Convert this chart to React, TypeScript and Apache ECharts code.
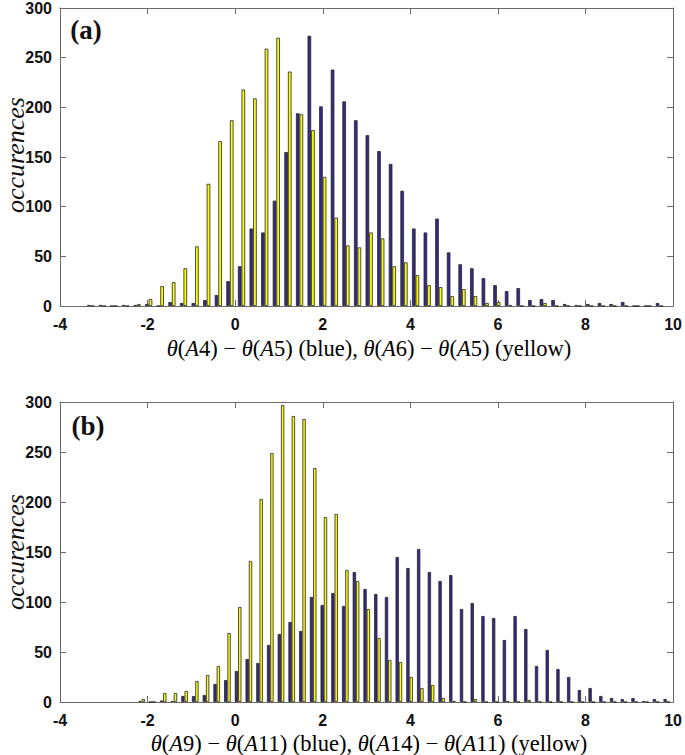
import React, { useEffect, useRef } from "react";
import * as echarts from "echarts";

// Panel (a): 50 histogram bins
const binStartA = -3.3;
const binWidthA = 0.265;
const blueA = [1, 1, 0, 1, 1, 2, 0, 4, 3, 3, 6, 11, 25, 40, 78, 74, 106, 155, 194, 272, 201, 238, 206, 187, 172, 156, 143, 116, 78, 74, 88, 54, 42, 38, 28, 21, 15, 18, 6, 7, 6, 2, 1, 2, 3, 2, 4, 0, 0, 3];
const yellowA = [0, 0, 0, 0, 2, 7, 20, 24, 38, 60, 123, 166, 187, 218, 209, 259, 270, 236, 193, 177, 130, 89, 61, 59, 74, 68, 40, 44, 31, 21, 19, 10, 17, 10, 3, 4, 1, 0, 0, 3, 0, 0, 0, 0, 0, 0, 0, 0, 0, 0];

// Panel (b): 50 histogram bins
const binStartB = -2.135;
const binWidthB = 0.2447;
const blueB = [1, 0, 1.5, 1, 6, 6, 7, 18, 22, 31, 43, 39, 57, 68, 80, 71, 105, 97, 109, 96, 130, 113, 108, 105, 145, 134, 153, 130, 121, 127, 93, 99, 86, 84, 62, 86, 73, 36, 52, 33, 25, 12, 14, 6, 4, 3, 4, 1, 3, 3];
const yellowB = [3, 0, 9, 9, 11, 21, 27, 36, 69, 95, 141, 203, 249, 297, 286, 283, 234, 185, 188, 132, 121, 93, 64, 42, 40, 25, 14, 17, 4, 1, 0, 3, 0, 0, 1, 0, 2, 0, 0, 0, 0, 0, 0, 0, 0, 0, 0, 0, 0, 0];

const xTicks = { min: -4, max: 10, interval: 2 };
const yTicks = { min: 0, max: 300, interval: 50 };

const BLUE = "#352a87";
const YELLOW = "#f9fb0e";
const EDGE = "#262626";
const FRAME = "#6a6a6a";

export default function App() {
  const ref = useRef<HTMLDivElement>(null);
  useEffect(() => {
    if (!ref.current) return;
    const chart = echarts.init(ref.current, null, { renderer: "svg" });

    const mkX = (gridIndex: number, position: string, labels: boolean) => ({
      type: "value",
      gridIndex,
      position,
      min: xTicks.min,
      max: xTicks.max,
      interval: xTicks.interval,
      axisLine: { show: true, onZero: false, lineStyle: { color: FRAME, width: 1 } },
      axisTick: { show: true, inside: true, length: 6, lineStyle: { color: FRAME } },
      axisLabel: {
        show: labels,
        margin: 10,
        color: "#111",
        fontFamily: "Liberation Sans",
        fontWeight: "bold",
        fontSize: 16,
      },
      splitLine: { show: false },
    });
    const mkY = (gridIndex: number, position: string, labels: boolean) => ({
      type: "value",
      gridIndex,
      position,
      min: yTicks.min,
      max: yTicks.max,
      interval: yTicks.interval,
      axisLine: { show: true, onZero: false, lineStyle: { color: FRAME, width: 1 } },
      axisTick: { show: true, inside: true, length: 6, lineStyle: { color: FRAME } },
      axisLabel: {
        show: labels,
        margin: 8,
        color: "#111",
        fontFamily: "Liberation Sans",
        fontWeight: "bold",
        fontSize: 16,
      },
      splitLine: { show: false },
    });

    const mkSeries = (
      xAxisIndex: number,
      yAxisIndex: number,
      start: number,
      width: number,
      vals: number[],
      color: string,
      barW: number
    ) => ({
      type: "bar",
      xAxisIndex,
      yAxisIndex,
      barWidth: barW,
      barGap: "0%",
      data: vals.map((v, i) => [start + i * width, v]),
      itemStyle: { color, borderColor: EDGE, borderWidth: 0.8 },
    });

    const titleRich = {
      i: { fontFamily: "Liberation Serif", fontStyle: "italic", fontSize: 22.5, color: "#111" },
      n: { fontFamily: "Liberation Serif", fontSize: 22.5, color: "#111" },
    };
    const mathTitle = (a: string, b: string, c: string) =>
      `{i|θ}{n|(}{i|A}{n|${a}) − }{i|θ}{n|(}{i|A}{n|${b}) (blue), }{i|θ}{n|(}{i|A}{n|${c}) − }{i|θ}{n|(}{i|A}{n|${b}) (yellow)}`;

    const ylabel = (y: number) => ({
      type: "text",
      x: 15,
      y,
      rotation: Math.PI / 2,
      style: {
        text: "occurences",
        font: 'italic 26px "Liberation Serif"',
        fill: "#111",
        align: "center",
        verticalAlign: "middle",
      },
    });

    const option = {
      animation: false,
      backgroundColor: "#fff",
      grid: [
        { left: 60, top: 5, width: 617, height: 301 },
        { left: 60, top: 402, width: 617, height: 300 },
      ],
      xAxis: [mkX(0, "bottom", true), mkX(0, "top", false), mkX(1, "bottom", true), mkX(1, "top", false)],
      yAxis: [mkY(0, "left", true), mkY(0, "right", false), mkY(1, "left", true), mkY(1, "right", false)],
      series: [
        mkSeries(0, 0, binStartA, binWidthA, blueA, BLUE, 3.6),
        mkSeries(0, 0, binStartA, binWidthA, yellowA, YELLOW, 3.6),
        mkSeries(2, 2, binStartB, binWidthB, blueB, BLUE, 3.3),
        mkSeries(2, 2, binStartB, binWidthB, yellowB, YELLOW, 3.3),
      ],
      graphic: [
        {
          type: "text",
          x: 369,
          y: 348,
          style: { text: mathTitle("4", "5", "6"), rich: titleRich, align: "center", verticalAlign: "middle" },
        },
        {
          type: "text",
          x: 369,
          y: 743,
          style: { text: mathTitle("9", "11", "14"), rich: titleRich, align: "center", verticalAlign: "middle" },
        },
        ylabel(155),
        ylabel(552),
        {
          type: "text",
          x: 86,
          y: 30,
          style: { text: "(a)", font: 'bold 27px "Liberation Serif"', fill: "#111", align: "center", verticalAlign: "middle" },
        },
        {
          type: "text",
          x: 88,
          y: 426,
          style: { text: "(b)", font: 'bold 27px "Liberation Serif"', fill: "#111", align: "center", verticalAlign: "middle" },
        },
      ],
    };
    chart.setOption(option as any);
    return () => chart.dispose();
  }, []);
  return (
    <div
      ref={ref}
      style={{ position: "fixed", left: 0, top: 0, width: 685, height: 755, background: "#fff" }}
    />
  );
}
